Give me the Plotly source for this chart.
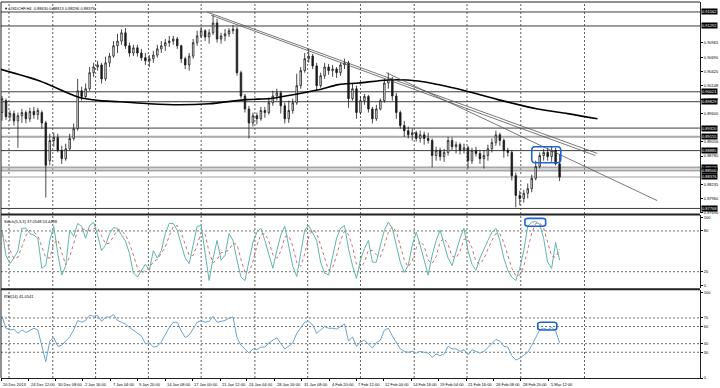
import plotly.graph_objects as go

# ---------------- data ----------------
bar = list(range(141))
opens = [0.8962,0.8985,0.8954,0.8960,0.8946,0.8956,0.8962,0.8950,0.8964,0.8958,
0.8962,0.8942,0.8869,0.8908,0.8914,0.8889,0.8873,0.8892,0.8912,0.8931,
0.9004,0.8993,0.9008,0.9039,0.9050,0.9054,0.9027,0.9058,0.9071,0.9091,
0.9100,0.9116,0.9091,0.9077,0.9087,0.9077,0.9068,0.9062,0.9066,0.9073,
0.9085,0.9091,0.9097,0.9100,0.9104,0.9091,0.9066,0.9054,0.9071,0.9097,
0.9110,0.9120,0.9108,0.9116,0.9135,0.9104,0.9110,0.9114,0.9120,0.9123,
0.9039,0.8994,0.8969,0.8942,0.8956,0.8950,0.8966,0.8962,0.8981,0.8994,
0.9000,0.8975,0.8950,0.8966,0.8981,0.9014,0.9043,0.9066,0.9071,0.9052,
0.9014,0.9033,0.9050,0.9043,0.9046,0.9039,0.9054,0.9058,0.8989,0.9008,
0.8962,0.8985,0.8993,0.8969,0.8950,0.8969,0.8985,0.9019,0.9027,0.8994,
0.8962,0.8937,0.8927,0.8919,0.8923,0.8912,0.8919,0.8912,0.8908,0.8879,
0.8889,0.8877,0.8885,0.8908,0.8896,0.8900,0.8889,0.8894,0.8869,0.8889,
0.8883,0.8873,0.8879,0.8892,0.8904,0.8919,0.8908,0.8889,0.8885,0.8840,
0.8802,0.8796,0.8806,0.8815,0.8835,0.8858,0.8879,0.8885,0.8877,0.8889,
0.88630]
closes = [0.8989,0.8954,0.8960,0.8946,0.8956,0.8962,0.8950,0.8964,0.8958,0.8966,
0.8942,0.8860,0.8908,0.8914,0.8889,0.8873,0.8892,0.8912,0.8931,0.9004,
0.8993,0.9008,0.9039,0.9050,0.9054,0.9027,0.9058,0.9071,0.9091,0.9100,
0.9116,0.9091,0.9077,0.9087,0.9077,0.9068,0.9062,0.9066,0.9073,0.9085,
0.9091,0.9097,0.9100,0.9104,0.9091,0.9066,0.9054,0.9071,0.9097,0.9110,
0.9120,0.9108,0.9116,0.9135,0.9104,0.9110,0.9114,0.9120,0.9123,0.9039,
0.8994,0.8969,0.8942,0.8956,0.8950,0.8966,0.8962,0.8981,0.8994,0.9000,
0.8975,0.8950,0.8966,0.8981,0.9014,0.9043,0.9066,0.9071,0.9052,0.9014,
0.9033,0.9050,0.9043,0.9046,0.9039,0.9054,0.9058,0.8989,0.9008,0.8962,
0.8985,0.8993,0.8969,0.8950,0.8969,0.8985,0.9019,0.9027,0.8994,0.8962,
0.8937,0.8927,0.8919,0.8923,0.8912,0.8919,0.8912,0.8908,0.8879,0.8889,
0.8877,0.8885,0.8908,0.8896,0.8900,0.8889,0.8894,0.8869,0.8889,0.8883,
0.8873,0.8879,0.8892,0.8904,0.8919,0.8908,0.8889,0.8885,0.8840,0.8802,
0.8796,0.8806,0.8815,0.8835,0.8858,0.8879,0.8885,0.8877,0.8889,0.8863,
0.88376]
highs = [0.8994,0.8989,0.8966,0.8966,0.8962,0.8969,0.8966,0.8971,0.8973,0.8971,
0.8966,0.8946,0.8921,0.8923,0.8921,0.8898,0.8902,0.8921,0.8941,0.9027,
0.9012,0.9018,0.9050,0.9058,0.9062,0.9058,0.9070,0.9077,0.9100,0.9114,
0.9123,0.9125,0.9097,0.9093,0.9093,0.9085,0.9077,0.9073,0.9081,0.9093,
0.9100,0.9104,0.9110,0.9110,0.9108,0.9093,0.9070,0.9077,0.9104,0.9120,
0.9127,0.9123,0.9123,0.9150,0.9143,0.9116,0.9123,0.9125,0.9131,0.9127,
0.9043,0.8998,0.8975,0.8962,0.8962,0.8973,0.8973,0.8991,0.9004,0.9008,
0.9004,0.8981,0.8985,0.8989,0.9037,0.9050,0.9077,0.9085,0.9075,0.9058,
0.9039,0.9058,0.9056,0.9054,0.9050,0.9058,0.9066,0.9062,0.9018,0.9014,
0.8993,0.8998,0.8996,0.8973,0.8977,0.8989,0.9027,0.9039,0.9031,0.9000,
0.8966,0.8946,0.8935,0.8931,0.8927,0.8927,0.8925,0.8923,0.8912,0.8896,
0.8894,0.8892,0.8915,0.8914,0.8906,0.8904,0.8902,0.8898,0.8894,0.8896,
0.8890,0.8889,0.8900,0.8912,0.8927,0.8923,0.8912,0.8894,0.8890,0.8846,
0.8811,0.8813,0.8825,0.8842,0.8869,0.8885,0.8892,0.8894,0.8896,0.8894,
0.88813]
lows = [0.8946,0.8948,0.8946,0.8937,0.8894,0.8942,0.8941,0.8944,0.8950,0.8948,
0.8931,0.8798,0.8860,0.8896,0.8885,0.8863,0.8869,0.8889,0.8908,0.8927,
0.8985,0.8989,0.9004,0.9031,0.9043,0.9018,0.9023,0.9050,0.9068,0.9077,
0.9093,0.9085,0.9070,0.9071,0.9070,0.9062,0.9054,0.9050,0.9058,0.9068,
0.9077,0.9081,0.9089,0.9093,0.9085,0.9058,0.9046,0.9043,0.9066,0.9091,
0.9106,0.9100,0.9095,0.9112,0.9097,0.9095,0.9100,0.9108,0.9114,0.9033,
0.8989,0.8962,0.8912,0.8935,0.8939,0.8946,0.8952,0.8958,0.8975,0.8985,
0.8960,0.8941,0.8942,0.8960,0.8977,0.9008,0.9039,0.9058,0.9046,0.9004,
0.9010,0.9027,0.9035,0.9031,0.9029,0.9033,0.9046,0.8971,0.8985,0.8950,
0.8958,0.8977,0.8962,0.8941,0.8946,0.8966,0.8981,0.9008,0.8985,0.8950,
0.8931,0.8915,0.8912,0.8908,0.8906,0.8904,0.8900,0.8902,0.8856,0.8869,
0.8869,0.8867,0.8879,0.8889,0.8883,0.8881,0.8883,0.8854,0.8863,0.8877,
0.8863,0.8854,0.8869,0.8885,0.8898,0.8898,0.8875,0.8877,0.8831,0.8779,
0.8783,0.8788,0.8796,0.8808,0.8831,0.8854,0.8869,0.8869,0.8867,0.8860,
0.88296]

stoch_k = [81,44,32,40,51,84,84,76,74,69,
25,29,66,87,47,15,29,81,72,91,
87,69,88,93,74,51,59,76,85,84,
74,65,47,18,12,22,31,22,51,40,
51,76,91,91,81,60,40,32,59,87,
88,51,7,40,66,37,44,76,66,37,
12,7,34,63,78,84,66,44,25,51,
74,87,59,28,13,44,81,88,76,66,
34,18,15,44,69,84,88,54,29,10,
37,54,66,34,34,59,81,93,84,59,
34,19,29,59,78,59,37,15,44,66,
81,59,40,29,51,69,84,51,31,22,
40,54,66,78,84,66,40,22,12,7,
25,51,87,93,94,90,69,34,25,63,
37.0548]
stoch_d = [75,65,52,39,41,58,73,81,78,73,
56,41,40,61,67,50,30,42,61,81,
83,82,81,83,85,73,61,62,73,82,
81,74,62,43,26,17,22,25,35,38,
47,56,73,86,88,77,60,44,44,59,
78,75,49,33,38,48,49,52,62,60,
38,19,18,35,58,75,76,65,45,40,
50,71,73,58,33,28,46,71,82,77,
59,39,22,26,43,66,80,75,57,31,
25,34,52,51,45,42,58,78,86,79,
59,37,27,36,55,65,58,37,32,42,
64,69,60,43,40,50,68,68,55,35,
31,39,53,66,76,76,63,43,25,14,
15,28,54,77,91,92,84,64,43,41,
53.4498]
rsi = [72,58,56,57,52,56,53,56,58,56,
38,19,43,47,37,38,43,48,56,67,
65,67,73,72,73,66,71,71,74,67,
65,63,59,56,52,49,40,41,36,37,
42,50,59,65,65,55,47,50,58,65,
67,65,66,72,65,66,67,70,71,47,
38,34,29,34,33,36,36,41,44,47,
40,34,37,41,52,59,65,66,62,52,
56,60,58,58,57,60,63,43,48,37,
42,44,40,35,41,44,56,58,49,41,
34,31,30,31,29,31,30,29,24,28,
26,28,37,34,34,31,33,27,33,31,
29,31,35,40,45,43,37,36,26,21,
23,26,30,38,48,56,58,56,59,55,
41.0541]

ma_bar = [-0.5, 9.5, 19.5, 24.5, 29.5, 37, 44.5, 52, 61.25, 67.5, 72, 79.5,
          84.5, 89.5, 97, 104.5, 109.5, 116.25, 124.5, 134.5, 142, 149.5]
ma_val = [0.9046, 0.9023, 0.8991, 0.8985, 0.8983, 0.8979, 0.8977, 0.8979, 0.8987,
          0.8989, 0.8995, 0.9006, 0.9016, 0.9019, 0.9025, 0.9023, 0.9016, 0.9004,
          0.8987, 0.8969, 0.8960, 0.8950]

trend_lines = [  # (bar0, price0, bar1, price1)
    (51.5, 0.9156, 149.5, 0.8883),
    (52.5, 0.9150, 149.0, 0.8879),
    (96.5, 0.9039, 164.5, 0.8792),
]

level_prices = [0.91562, 0.91292, 0.90021, 0.89829, 0.89320, 0.89155,
                0.88885, 0.88558, 0.88500, 0.88376, 0.87768]
level_kind = ["d", "d", "d", "d", "d", "g", "d", "g", "g", "l", "d"]

price_ticks = [0.90965, 0.90690, 0.90420, 0.90148, 0.89877, 0.89600,
               0.89056, 0.88780, 0.88235, 0.87960, 0.87690]
stoch_ticks = [100, 80, 20, 0]
rsi_ticks = [100, 70, 60, 40, 30, 0]

vgrid_bar = [1.75, 12.75, 23.5, 36.75, 50, 63.5, 76.75, 90, 103.5, 116.75, 130.25, 146.25]
xlabel_bar = [-0.25, 6.75, 13.5, 20.25, 27.25, 34, 41, 47.75, 54.75, 61.5, 68.5,
              75.25, 82.25, 89, 95.75, 102.75, 109.5, 116.5, 123.5, 130.25, 137.25]
xlabel_text = ["20 Dec 2013", "24 Dec 12:00", "30 Dec 08:00", "2 Jan 16:00", "7 Jan 04:00",
               "9 Jan 20:00", "14 Jan 08:00", "17 Jan 00:00", "21 Jan 12:00", "24 Jan 04:00",
               "28 Jan 16:00", "31 Jan 08:00", "4 Feb 20:00", "7 Feb 12:00", "12 Feb 00:00",
               "14 Feb 16:00", "19 Feb 04:00", "21 Feb 16:00", "26 Feb 08:00", "28 Feb 20:00",
               "5 Mar 12:00"]

# highlight boxes: (bar0, bar1, v0, v1, axis)
boxes = [(133.0, 140.3, 0.8865, 0.8896, "y"),
         (131.3, 136.5, 87.0, 98.5, "y2"),
         (134.5, 139.3, 56.0, 65.0, "y3")]

# ---------------- figure ----------------
FONT = "Liberation Sans"
fig = go.Figure()

fig.add_trace(go.Candlestick(
    x=bar, open=opens, high=highs, low=lows, close=closes,
    increasing=dict(line=dict(color="#1a1a1a", width=0.8), fillcolor="#ffffff"),
    decreasing=dict(line=dict(color="#1a1a1a", width=0.8), fillcolor="#1a1a1a"),
    whiskerwidth=0, yaxis="y", hoverinfo="skip", showlegend=False))

fig.add_trace(go.Scatter(x=ma_bar, y=ma_val, mode="lines", yaxis="y",
                         line=dict(color="#000000", width=1.6, shape="spline", smoothing=0.8),
                         hoverinfo="skip", showlegend=False))

for b0, p0, b1, p1 in trend_lines:
    fig.add_trace(go.Scatter(x=[b0, b1], y=[p0, p1], mode="lines", yaxis="y",
                             line=dict(color="#555555", width=0.8),
                             hoverinfo="skip", showlegend=False))

fig.add_trace(go.Scatter(x=bar, y=stoch_k, mode="lines", yaxis="y2",
                         line=dict(color="#5fb5ad", width=1), hoverinfo="skip", showlegend=False))
fig.add_trace(go.Scatter(x=bar, y=stoch_d, mode="lines", yaxis="y2",
                         line=dict(color="#c87070", width=1, dash="dot"),
                         hoverinfo="skip", showlegend=False))
fig.add_trace(go.Scatter(x=bar, y=rsi, mode="lines", yaxis="y3",
                         line=dict(color="#6aa4d4", width=1), hoverinfo="skip", showlegend=False))

shapes = []
for b in vgrid_bar:
    shapes.append(dict(type="line", xref="x", yref="paper", x0=b, x1=b, y0=0, y1=1,
                       line=dict(color="#606060", width=1, dash="2px,2px"), layer="below"))
kind_style = {"d": ("#3c3c3c", 1), "g": ("#a8a8a8", 2), "l": ("#cfcfcf", 2)}
for p, k in zip(level_prices, level_kind):
    c, w = kind_style[k]
    shapes.append(dict(type="line", xref="paper", yref="y", x0=0, x1=1, y0=p, y1=p,
                       line=dict(color=c, width=w), layer="below"))
for v in [80, 20]:
    shapes.append(dict(type="line", xref="paper", yref="y2", x0=0, x1=1, y0=v, y1=v,
                       line=dict(color="#707070", width=1, dash="2px,2px"), layer="below"))
for v in [70, 60, 40, 30]:
    shapes.append(dict(type="line", xref="paper", yref="y3", x0=0, x1=1, y0=v, y1=v,
                       line=dict(color="#707070", width=1, dash="2px,2px"), layer="below"))
for yy in [0.4350, 0.2360]:
    shapes.append(dict(type="line", xref="paper", yref="paper", x0=0, x1=1, y0=yy, y1=yy,
                       line=dict(color="#202020", width=2)))
shapes.append(dict(type="line", xref="paper", yref="paper", x0=0, x1=0, y0=0, y1=1,
                   line=dict(color="#202020", width=1)))
shapes.append(dict(type="line", xref="paper", yref="paper", x0=0, x1=1, y0=1, y1=1,
                   line=dict(color="#202020", width=1)))

def rounded(x0, x1, y0, y1, rx, ry):
    return (f"M{x0+rx},{y0} L{x1-rx},{y0} Q{x1},{y0} {x1},{y0+ry} "
            f"L{x1},{y1-ry} Q{x1},{y1} {x1-rx},{y1} L{x0+rx},{y1} "
            f"Q{x0},{y1} {x0},{y1-ry} L{x0},{y0+ry} Q{x0},{y0} {x0+rx},{y0} Z")

for b0, b1, v0, v1, ax in boxes:
    ry = (v1 - v0) * 0.25
    shapes.append(dict(type="path", xref="x", yref=ax, path=rounded(b0, b1, v0, v1, 0.8, ry),
                       line=dict(color="#1f63d0", width=1.6)))

ann = []
for p in level_prices:
    ann.append(dict(xref="paper", yref="y", x=1.0, y=p, xanchor="left", yanchor="middle",
                    xshift=1, text=f"{p:.5f}", showarrow=False, bgcolor="#000000",
                    font=dict(family=FONT, size=4, color="#ffffff"), borderpad=0))
for b, t in zip(xlabel_bar, xlabel_text):
    ann.append(dict(xref="x", yref="paper", x=b, y=0, xanchor="left", yanchor="top",
                    yshift=-2, text=t, showarrow=False,
                    font=dict(family=FONT, size=4, color="#000000")))
ann.append(dict(xref="paper", yref="paper", x=0.002, y=1.0, xanchor="left", yanchor="top",
                yshift=-2, text="▼ USDCHF,H4  0.88630 0.88813 0.88296 0.88376", showarrow=False,
                font=dict(family=FONT, size=4, color="#000000")))
ann.append(dict(xref="paper", yref="paper", x=0.002, y=0.4324, xanchor="left", yanchor="top",
                yshift=-2, text="Stoch(5,3,3) 37.0548 53.4498", showarrow=False,
                font=dict(family=FONT, size=4, color="#000000")))
ann.append(dict(xref="paper", yref="paper", x=0.002, y=0.2334, xanchor="left", yanchor="top",
                yshift=-2, text="RSI(14) 41.0541", showarrow=False,
                font=dict(family=FONT, size=4, color="#000000")))

tickfont = dict(family=FONT, size=4, color="#000000")
fig.update_layout(
    width=720, height=388, margin=dict(l=1, r=17, t=1, b=10),
    paper_bgcolor="#ffffff", plot_bgcolor="#ffffff",
    showlegend=False, hovermode=False, boxgap=0.45,
    xaxis=dict(range=[-0.25, 175.25], anchor="y3", showgrid=False, zeroline=False,
               rangeslider=dict(visible=False), tickvals=xlabel_bar, ticks="outside",
               ticklen=2, tickcolor="#000000", showticklabels=False,
               showline=True, linecolor="#202020", linewidth=1),
    yaxis=dict(domain=[0.4377, 1.0], range=[0.87672, 0.91755], side="right", anchor="x",
               tickvals=price_ticks, ticktext=[f"{v:.5f}" for v in price_ticks],
               tickfont=tickfont, ticks="outside", ticklen=2, tickcolor="#000000",
               showgrid=False, zeroline=False, showline=True, linecolor="#202020"),
    yaxis2=dict(domain=[0.2387, 0.4324], range=[-4.4, 102.9], side="right", anchor="x",
                tickvals=stoch_ticks, tickfont=tickfont, ticks="outside", ticklen=2,
                tickcolor="#000000", showgrid=False, zeroline=False, showline=True,
                linecolor="#202020"),
    yaxis3=dict(domain=[0.0, 0.2334], range=[0, 102.3], side="right", anchor="x",
                tickvals=rsi_ticks, tickfont=tickfont, ticks="outside", ticklen=2,
                tickcolor="#000000", showgrid=False, zeroline=False, showline=True,
                linecolor="#202020"),
    shapes=shapes, annotations=ann,
)

fig.write_html("out.html", config={"displayModeBar": False},
               post_script="document.body.style.margin='0';document.body.style.padding='0';")
